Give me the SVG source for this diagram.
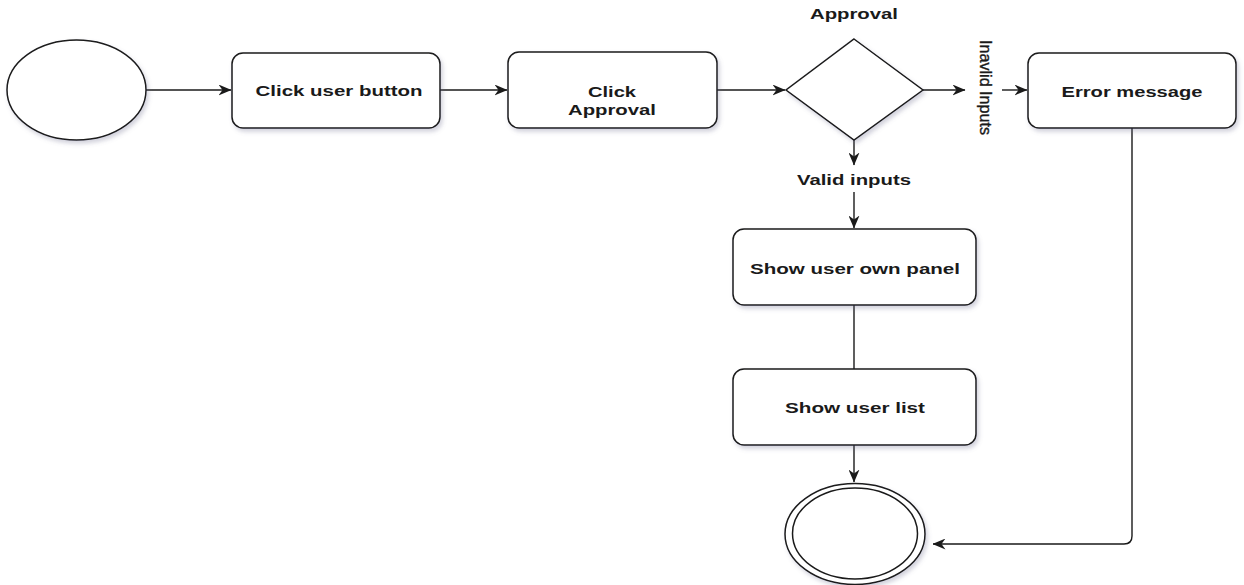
<svg xmlns="http://www.w3.org/2000/svg" width="1244" height="585" viewBox="0 0 1244 585">
  <defs>
    <style>
      .shape { fill: #ffffff; stroke: #1a1a1a; stroke-width: 1.5; filter: url(#shadow); }
      .edge { fill: none; stroke: #1a1a1a; stroke-width: 1.4; }
      .label { font-family: "Liberation Sans", Arial, sans-serif; font-weight: bold; font-size: 15px; fill: #1a1a1a; text-anchor: middle; }
      .side { font-family: "Liberation Sans", Arial, sans-serif; font-size: 16px; fill: #1a1a1a; stroke: #1a1a1a; stroke-width: 0.35; }
    </style>
    <filter id="shadow" x="-20%" y="-20%" width="150%" height="150%">
      <feDropShadow dx="2" dy="3" stdDeviation="2" flood-color="#6a6a8a" flood-opacity="0.3"/>
    </filter>
    <marker id="arrow" viewBox="0 0 13 11" refX="12.5" refY="5.5" markerWidth="13" markerHeight="11" markerUnits="userSpaceOnUse" orient="auto">
      <path d="M0,0 L13,5.5 L0,11 L4,5.5 Z" fill="#1a1a1a"/>
    </marker>
  </defs>

  <rect width="1244" height="585" fill="#ffffff"/>

  <!-- connectors -->
  <g id="connectors">
    <line class="edge" x1="146" y1="90" x2="231" y2="90" marker-end="url(#arrow)"/>
    <line class="edge" x1="440" y1="90" x2="507" y2="90" marker-end="url(#arrow)"/>
    <line class="edge" x1="717" y1="90" x2="785" y2="90" marker-end="url(#arrow)"/>
    <line class="edge" x1="923" y1="90" x2="965" y2="90" marker-end="url(#arrow)"/>
    <line class="edge" x1="1002" y1="90" x2="1027" y2="90" marker-end="url(#arrow)"/>
    <line class="edge" x1="854" y1="140" x2="854" y2="165" marker-end="url(#arrow)"/>
    <line class="edge" x1="854" y1="192" x2="854" y2="228" marker-end="url(#arrow)"/>
    <line class="edge" x1="854" y1="305" x2="854" y2="369"/>
    <line class="edge" x1="854" y1="445" x2="854" y2="482" marker-end="url(#arrow)"/>
    <path class="edge" d="M1132,128 L1132,536 Q1132,544 1124,544 L933,544" marker-end="url(#arrow)"/>
  </g>

  <!-- start state -->
  <g id="start">
    <ellipse class="shape" cx="76.5" cy="90" rx="69.5" ry="50"/>
  </g>

  <g id="click-user-button">
    <rect class="shape" x="232" y="53" width="208" height="75" rx="11" ry="11"/>
    <text class="label" x="339" y="96" textLength="167" lengthAdjust="spacingAndGlyphs">Click user button</text>
  </g>

  <g id="click-approval">
    <rect class="shape" x="508" y="52" width="209" height="76" rx="11" ry="11"/>
    <text class="label" x="612" y="97" textLength="48" lengthAdjust="spacingAndGlyphs">Click</text>
    <text class="label" x="612" y="115" textLength="88" lengthAdjust="spacingAndGlyphs">Approval</text>
  </g>

  <g id="approval-decision">
    <polygon class="shape" points="854,39 923,90 854,140 786,90"/>
    <text class="label" x="854" y="19" textLength="88" lengthAdjust="spacingAndGlyphs">Approval</text>
  </g>

  <g id="invalid-label">
    <text class="side" transform="translate(980,40) rotate(90)" x="0" y="0" textLength="95" lengthAdjust="spacingAndGlyphs">Inavlid Inputs</text>
  </g>

  <g id="valid-label">
    <text class="label" x="854" y="185" textLength="114" lengthAdjust="spacingAndGlyphs">Valid inputs</text>
  </g>

  <g id="error-message">
    <rect class="shape" x="1028" y="53" width="208" height="75" rx="11" ry="11"/>
    <text class="label" x="1132" y="96.5" textLength="141" lengthAdjust="spacingAndGlyphs">Error message</text>
  </g>

  <g id="show-user-own-panel">
    <rect class="shape" x="733" y="229" width="243" height="76" rx="11" ry="11"/>
    <text class="label" x="855" y="274" textLength="210" lengthAdjust="spacingAndGlyphs">Show user own panel</text>
  </g>

  <g id="show-user-list">
    <rect class="shape" x="733" y="369" width="243" height="76" rx="11" ry="11"/>
    <text class="label" x="855" y="413" textLength="140" lengthAdjust="spacingAndGlyphs">Show user list</text>
  </g>

  <!-- final state -->
  <g id="end">
    <ellipse class="shape" cx="855" cy="534" rx="70" ry="50.5"/>
    <ellipse cx="855" cy="533.5" rx="62.5" ry="45.5" fill="none" stroke="#1a1a1a" stroke-width="1.5"/>
  </g>
</svg>
